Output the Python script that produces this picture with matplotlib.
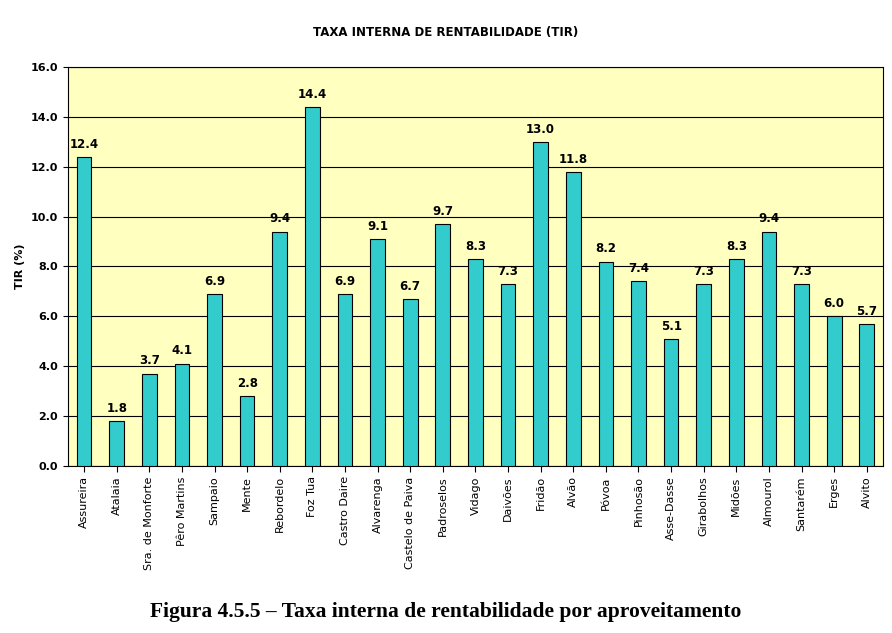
import matplotlib.pyplot as plt
import numpy as np

names = ['Assureira', 'Atalaia', 'Sra. de Monforte', 'Pêro Martins', 'Sampaio', 'Mente',
         'Rebordelo', 'Foz Tua', 'Castro Daire', 'Alvarenga', 'Castelo de Paiva', 'Padroselos',
         'Vidago', 'Daivões', 'Fridão', 'Alvão', 'Póvoa', 'Pinhosão', 'Asse-Dasse',
         'Girabolhos', 'Midões', 'Almourol', 'Santarém', 'Erges', 'Alvito']
tir = [12.4, 1.8, 3.7, 4.1, 6.9, 2.8, 9.4, 14.4, 6.9, 9.1, 6.7, 9.7, 8.3, 7.3, 13.0,
       11.8, 8.2, 7.4, 5.1, 7.3, 8.3, 9.4, 7.3, 6.0, 5.7]

fig = plt.figure(figsize=(8.92, 6.33), dpi=100)
ax = fig.add_axes([0.076, 0.264, 0.914, 0.630])
ax.set_facecolor('#FFFFC0')
x = np.arange(len(names))
ax.bar(x, tir, width=0.45, color='#33CCCC', edgecolor='black', linewidth=0.8, zorder=3)
for xi, v in zip(x, tir):
    ax.text(xi, v + 0.25, f'{v:.1f}', ha='center', va='bottom', fontsize=8.5, fontweight='bold')

ax.set_xlim(-0.5, len(names) - 0.5)
ax.set_ylim(0, 16)
ax.set_yticks(np.arange(0, 16.1, 2))
ax.set_yticklabels([f'{t:.1f}' for t in np.arange(0, 16.1, 2)], fontsize=8, fontweight='bold')
ax.yaxis.grid(True, color='black', linewidth=0.8, zorder=0)
ax.set_xticks(x)
ax.set_xticklabels(names, rotation=90, fontsize=8)
ax.tick_params(axis='x', length=4)
ax.set_ylabel('TIR (%)', fontsize=8, fontweight='bold')
for s in ax.spines.values():
    s.set_color('black')

fig.text(0.5, 0.948, 'TAXA INTERNA DE RENTABILIDADE (TIR)', ha='center', va='center',
         fontsize=8.5, fontweight='bold')
fig.text(0.5, 0.033, 'Figura 4.5.5 – Taxa interna de rentabilidade por aproveitamento',
         ha='center', va='center', fontsize=15.5, fontweight='bold', family='Liberation Serif')

fig.savefig('out.png', dpi=100)
